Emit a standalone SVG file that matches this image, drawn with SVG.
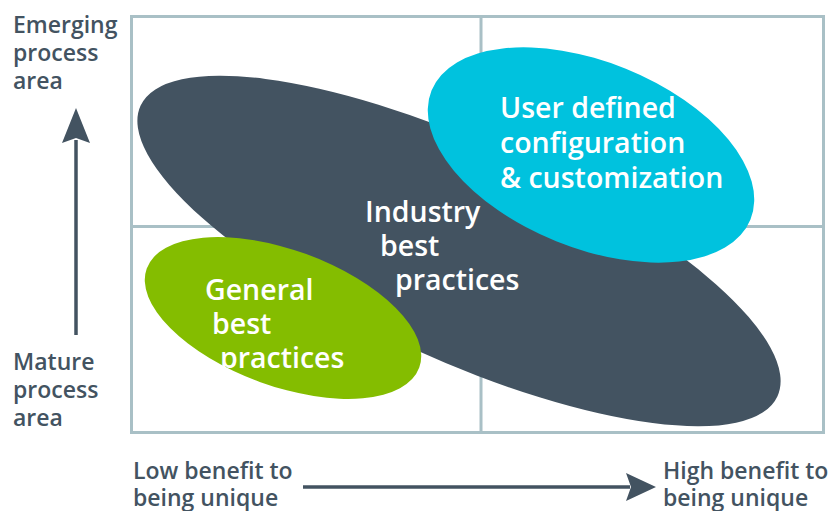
<svg xmlns="http://www.w3.org/2000/svg" width="832" height="511" viewBox="0 0 832 511">
<defs>
<style>
.frame{fill:none;stroke:#A9C0C6;stroke-width:3}
.axis{fill:#435361;font-family:"Open Sans","Liberation Sans",sans-serif;font-size:23px;font-weight:600}
.lbl{fill:#ffffff;font-family:"Open Sans","Liberation Sans",sans-serif;font-size:28.5px;font-weight:600}
.arrow{stroke:#435361;stroke-width:3.5;fill:none}
</style>
</defs>
<rect x="0" y="0" width="832" height="511" fill="#ffffff"/>
<g id="grid">
<rect class="frame" x="131.5" y="16.5" width="692" height="416"/>
<line class="frame" x1="481" y1="16.5" x2="481" y2="432.5"/>
<line class="frame" x1="131.5" y1="226.5" x2="823.5" y2="226.5"/>
</g>
<g id="industry">
<ellipse cx="459" cy="251" rx="350" ry="108" transform="rotate(24.5 459 251)" fill="#435361"/>
<text class="lbl"><tspan x="365" y="222">Industry</tspan><tspan x="380" y="256">best</tspan><tspan x="395" y="290">practices</tspan></text>
</g>
<g id="user">
<ellipse cx="591" cy="155" rx="172" ry="93" transform="rotate(22 591 155)" fill="#00C2DE"/>
<text class="lbl"><tspan x="500" y="118">User defined</tspan><tspan x="500" y="153">configuration</tspan><tspan x="500" y="188">&amp; customization</tspan></text>
</g>
<g id="general">
<ellipse cx="283" cy="318" rx="145" ry="68" transform="rotate(20 283 318)" fill="#84BD00"/>
<text class="lbl"><tspan x="205" y="300">General</tspan><tspan x="212" y="334">best</tspan><tspan x="220" y="368">practices</tspan></text>
</g>
<g id="connectors">
<line class="arrow" x1="76" y1="335" x2="76" y2="140"/>
<path d="M76,108 L90,143 L76,138 L62,143 Z" fill="#435361"/>
<line class="arrow" x1="303" y1="487" x2="630" y2="487"/>
<path d="M656,487 L626,473 L631,487 L626,501 Z" fill="#435361"/>
</g>
<g id="labels">
<text class="axis"><tspan x="13" y="33">Emerging</tspan><tspan x="13" y="61">process</tspan><tspan x="13" y="89">area</tspan></text>
<text class="axis"><tspan x="13" y="370">Mature</tspan><tspan x="13" y="398">process</tspan><tspan x="13" y="426">area</tspan></text>
<text class="axis"><tspan x="133" y="479">Low benefit to</tspan><tspan x="133" y="506">being unique</tspan></text>
<text class="axis"><tspan x="663" y="479">High benefit to</tspan><tspan x="663" y="506">being unique</tspan></text>
</g>
</svg>
